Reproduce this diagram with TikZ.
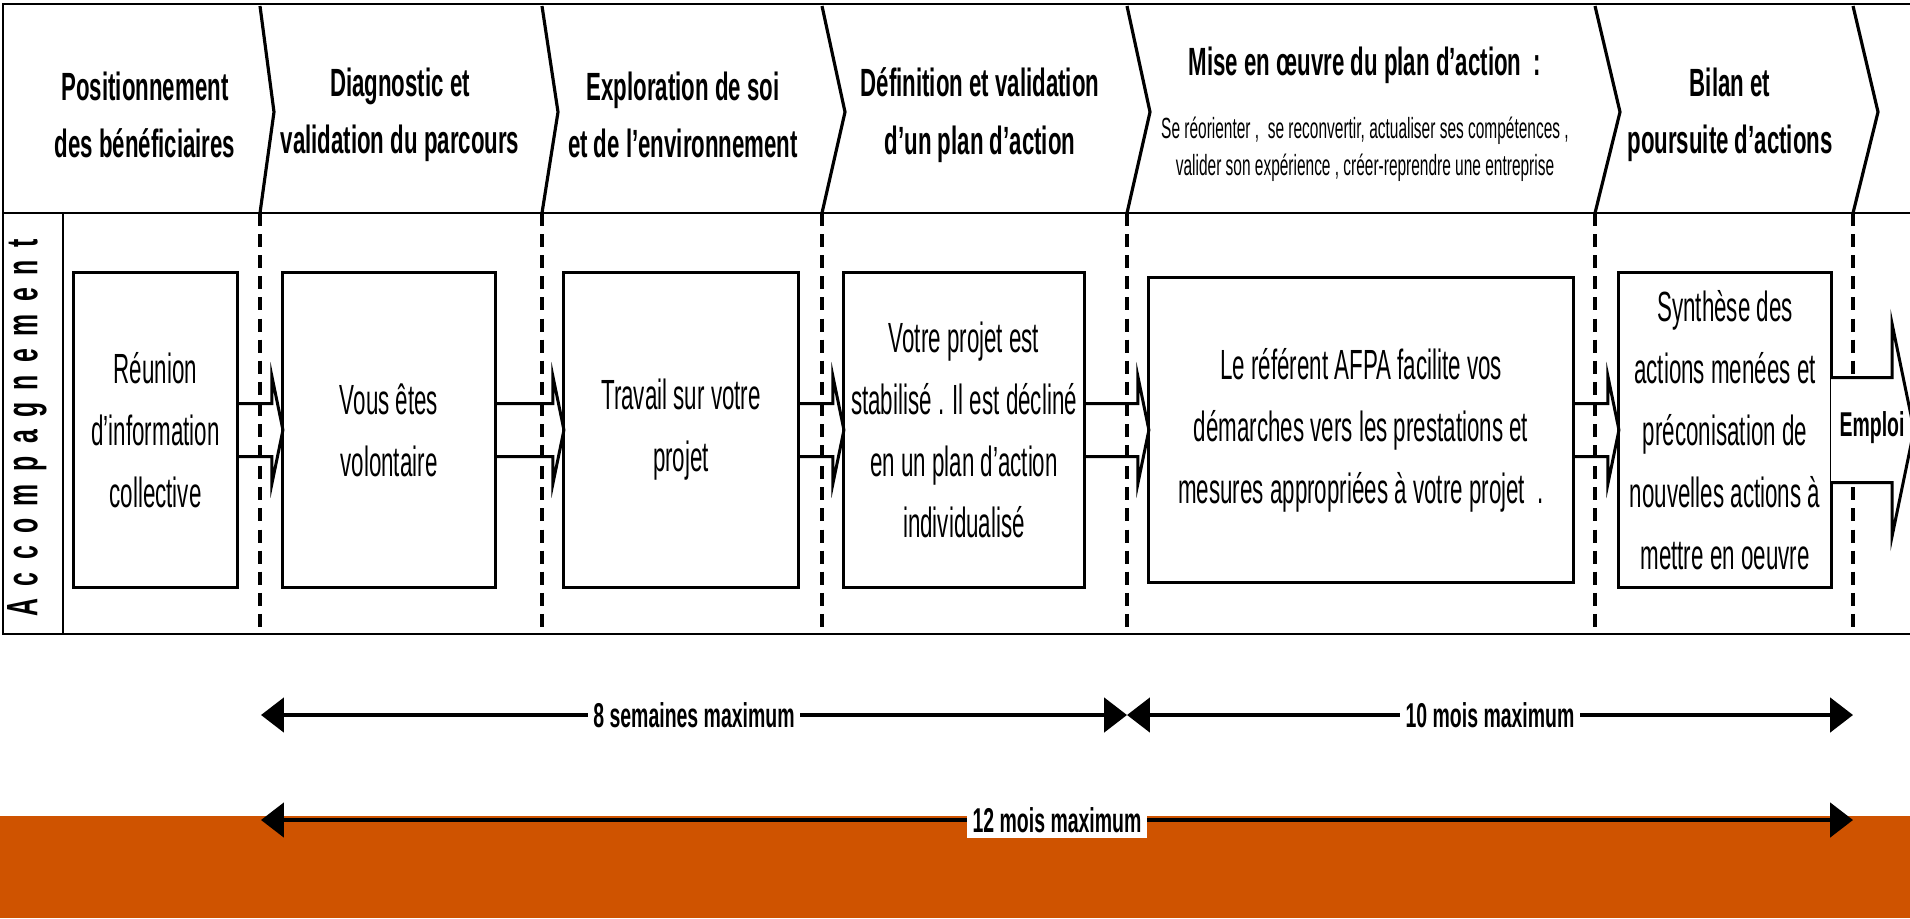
\documentclass[tikz,border=0pt]{standalone}
\usepackage{fontspec}
\newfontfamily\boxfont[FakeStretch=0.53]{Liberation Sans}
\newfontfamily\headfont[FakeStretch=0.565]{Liberation Sans}
\usetikzlibrary{positioning, calc, arrows.meta}
\definecolor{afpaorange}{RGB}{207,83,0}
\tikzset{
  stepbox/.style={draw, line width=0.85pt, fill=white, outer sep=0pt, inner sep=0pt, align=center,
    font=\boxfont\fontsize{12pt}{17.6pt}\selectfont},
  phase/.style={align=center, font=\headfont\bfseries\fontsize{11.2pt}{16.3pt}\selectfont},
  flow/.style={line width=0.85pt, line join=miter},
  limit/.style={line width=1.15pt, dash pattern=on 3.7pt off 2.3pt},
  span/.style={line width=1.15pt, {Triangle[length=6.5pt,width=9.7pt]}-{Triangle[length=6.5pt,width=9.7pt]}},
  spanlabel/.style={fill=white, inner sep=1.5pt, font=\headfont\bfseries\fontsize{9.8pt}{11pt}\selectfont},
}

\begin{document}
\begin{tikzpicture}[x=0.01cm, y=-0.01cm]
   \useasboundingbox (0,0) rectangle (1910,918);
   \fill[afpaorange] (0,816) rectangle (1910,918);

   % frame of the table
   \draw[line width=0.6pt] (1912,4) -- (3,4) -- (3,634) -- (1912,634);
   \draw[line width=0.6pt] (3,213) -- (1912,213);
   \draw[line width=0.6pt] (63,213) -- (63,634);

   % chevrons and limits between the steps
   \foreach \x/\o in {260/14, 542/16, 822/23, 1127/23, 1595/25, 1853/25} {
      \draw[line width=0.9pt] (\x,6) -- (\x+\o,112) -- (\x,213);
      \draw[limit] (\x,213) -- (\x,634);
   }

   \node[phase] (positionnement) at (145,115) {Positionnement\\des bénéficiaires};
   \node[phase] (diagnostic) at (400,115) {Diagnostic et\\validation du parcours};
   \node[phase] (exploration) at (683,115) {Exploration de soi\\et de l’environnement};
   \node[phase] (definition) at (980,115) {Définition et validation\\d’un plan d’action};
   \node[phase, anchor=base] (miseenoeuvre) at (1365,75) {Mise en œuvre du plan d’action~~:};
   \node[align=center, font=\boxfont\fontsize{8.3pt}{10.5pt}\selectfont] (options) at (1365,149)
      {Se réorienter ,~ se reconvertir, actualiser ses compétences ,\\valider son expérience , créer-reprendre une entreprise};
   \node[phase] (bilan) at (1730,115) {Bilan et\\poursuite d’actions};

   \node[rotate=90, font=\headfont\bfseries\fontsize{12.5pt}{14pt}\selectfont] (accompagnement) at (27,428)
      {\makebox[3.77cm][s]{A c c o m p a g n e m e n t}};

   % steps
   \node[stepbox, minimum width=1.63cm, minimum height=3.15cm] (reunion) at (155.5,430) {Réunion\\d’information\\collective};
   \node[stepbox, minimum width=2.12cm, minimum height=3.15cm] (volontaire) at (389,430) {Vous êtes\\volontaire};
   \node[stepbox, minimum width=2.34cm, minimum height=3.15cm] (travail) at (681,430) {Travail sur votre\\projet};
   \node[stepbox, minimum width=2.40cm, minimum height=3.15cm] (stabilise) at (964,430) {Votre projet est\\stabilisé . Il est décliné\\en un plan d’action\\individualisé};
   \node[stepbox, minimum width=4.24cm, minimum height=3.05cm] (referent) at (1361,430) {Le référent AFPA facilite vos\\démarches vers les prestations et\\mesures appropriées à votre projet~~.};
   \node[stepbox, minimum width=2.12cm, minimum height=3.14cm] (synthese) at (1725,430) {Synthèse des\\actions menées et\\préconisation de\\nouvelles actions à\\mettre en oeuvre};

   \foreach \a/\b in {reunion/volontaire, volontaire/travail, travail/stabilise, stabilise/referent, referent/synthese}
      \draw[flow] ($(\a.east)+(0,-26.5)$) -- ($(\b.west)+(-11,-26.5)$) -- ($(\b.west)+(-11,-53.5)$) -- (\b.west)
         -- ($(\b.west)+(-11,53.5)$) -- ($(\b.west)+(-11,26.5)$) -- ($(\a.east)+(0,26.5)$);

   \coordinate (emploi) at (1914,430);
   \draw[flow, fill=white] ($(synthese.east)+(0,-52.5)$) -- ($(emploi)+(-22,-52.5)$) -- ($(emploi)+(-22,-106.5)$) -- (emploi)
      -- ($(emploi)+(-22,106.5)$) -- ($(emploi)+(-22,52.5)$) -- ($(synthese.east)+(0,52.5)$);
   \node[font=\headfont\bfseries\fontsize{9.8pt}{11pt}\selectfont] (emploilabel) at (1872,428) {Emploi};

   % durations
   \coordinate (debut) at (261,715);
   \coordinate (plan) at (1127,715);
   \coordinate (fin) at (1853,715);
   \coordinate (debut12) at (261,820);
   \coordinate (fin12) at (1853,820);
   \draw[span] (debut) -- node[spanlabel] (semaines) {8 semaines maximum} (plan);
   \draw[span] (plan) -- node[spanlabel] (dixmois) {10 mois maximum} (fin);
   \draw[span] (debut12) -- node[spanlabel] (douzemois) {12 mois maximum} (fin12);
\end{tikzpicture}
\end{document}
